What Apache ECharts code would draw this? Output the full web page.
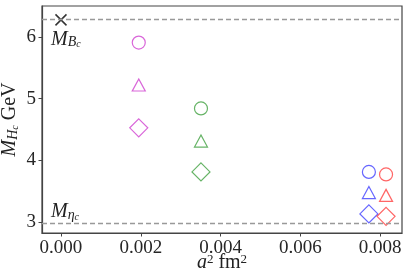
<!DOCTYPE html>
<html>
<head>
<meta charset="utf-8">
<script src="https://cdn.jsdelivr.net/npm/echarts@6/dist/echarts.min.js"></script>
<style>html,body{margin:0;padding:0;background:#fff}#c{width:415px;height:277px}</style>
</head>
<body>
<div id="c"></div>
<script>
// a^2 in fm^2 for each ensemble
const xPhys = [0.0];
const xMagenta = [0.00195];
const xGreen = [0.00351];
const xBlue = [0.00772];
const xRed = [0.00815];
// masses (GeV): circle, triangle, diamond
const circleM = [5.907], triangleM = [5.22], diamondM = [4.525];
const circleG = [4.84], triangleG = [4.31], diamondG = [3.81];
const circleB = [3.81], triangleB = [3.475], diamondB = [3.13];
const circleR = [3.77], triangleR = [3.43], diamondR = [3.09];
const physMass = [6.275];
const MBc = 6.275;
const Metac = 2.984;
const xTicks = [0, 0.002, 0.004, 0.006, 0.008];
const yTicks = [3, 4, 5, 6];

const FONT = 'Liberation Serif';
const chart = echarts.init(document.getElementById('c'), null, {renderer: 'canvas'});

function pts(xs, ys) { return ys.map((y, i) => [xs[i] !== undefined ? xs[i] : xs[0], y]); }

const markers = [
  {xs: xMagenta, c: circleM, t: triangleM, d: diamondM, color: '#cf40cf'},
  {xs: xGreen, c: circleG, t: triangleG, d: diamondG, color: '#40a040'},
  {xs: xBlue, c: circleB, t: triangleB, d: diamondB, color: '#4040ff'},
  {xs: xRed, c: circleR, t: triangleR, d: diamondR, color: '#ff4040'}
];

const series = [];
markers.forEach(m => {
  [['c', 'circle', [13, 13]], ['t', 'triangle', [13, 12]], ['d', 'diamond', [18, 18]]].forEach(([k, sym, size]) => {
    series.push({
      type: 'scatter', symbol: sym, symbolSize: size,
      data: pts(m.xs, m[k]),
      itemStyle: {color: 'transparent', borderColor: m.color, borderWidth: 1.2},
      emphasis: {disabled: true}, silent: true, z: 3
    });
  });
});

const C = '#222';
const subRich = {
  m: {fontFamily: FONT, fontStyle: 'italic', fontSize: 20, color: C, lineHeight: 22, verticalAlign: 'bottom'},
  s: {fontFamily: FONT, fontStyle: 'italic', fontSize: 14, color: C, lineHeight: 12, verticalAlign: 'bottom'},
  ss: {fontFamily: FONT, fontStyle: 'italic', fontSize: 10, color: C, lineHeight: 6, verticalAlign: 'bottom'},
  t: {fontFamily: FONT, fontSize: 20, color: C, lineHeight: 22, verticalAlign: 'bottom'}
};

series.push({
  type: 'scatter', symbol: 'path://M0,0L10,10M10,0L0,10', symbolSize: 11,
  data: pts(xPhys, physMass),
  itemStyle: {color: 'none', borderColor: '#000', borderWidth: 1.5},
  silent: true, z: 4,
  markLine: {
    silent: true, symbol: 'none',
    lineStyle: {color: '#999', type: [5, 3], width: 1.3},
    data: [
      {yAxis: MBc, label: {show: true, position: 'insideStartBottom', distance: [9, 8],
        formatter: '{m|M}{s|B}{ss|c}'}},
      {yAxis: Metac, label: {show: true, position: 'insideStartTop', distance: [9, 1],
        formatter: '{m|M}{s|η}{ss|c}'}}
    ],
    label: {rich: subRich}
  }
});

const axisTxt = {fontFamily: FONT, fontSize: 19, color: '#262626'};

chart.setOption({
  animation: false,
  backgroundColor: '#fff',
  grid: {left: 42, right: 13, top: 6, bottom: 44, show: true, borderColor: '#444', borderWidth: 1.2,
    backgroundColor: 'transparent', containLabel: false, outerBoundsMode: 'none'},
  xAxis: {
    type: 'value', min: -0.000476, max: 0.00855,
    splitLine: {show: false},
    axisLine: {show: true, onZero: false, lineStyle: {color: '#444', width: 1.2}},
    axisTick: {show: true, length: 3.5, lineStyle: {color: '#444'}, customValues: xTicks},
    axisLabel: Object.assign({margin: 6, customValues: xTicks, formatter: v => v.toFixed(3)}, axisTxt),
    name: '{i|a}{p|2}{t| fm}{p|2}', nameLocation: 'middle', nameGap: 20, nameMoveOverlap: false,
    nameTextStyle: {rich: {
      i: {fontFamily: FONT, fontStyle: 'italic', fontSize: 20, color: C, lineHeight: 20, verticalAlign: 'bottom'},
      t: {fontFamily: FONT, fontSize: 20, color: C, lineHeight: 20, verticalAlign: 'bottom'},
      p: {fontFamily: FONT, fontSize: 13, color: C, lineHeight: 8, verticalAlign: 'top'}
    }}
  },
  yAxis: {
    type: 'value', min: 2.82, max: 6.5,
    splitLine: {show: false},
    axisLine: {show: true, onZero: false, lineStyle: {color: '#444', width: 1.2}},
    axisTick: {show: true, length: 3.5, lineStyle: {color: '#444'}, customValues: yTicks},
    axisLabel: Object.assign({margin: 6, customValues: yTicks}, axisTxt),
    name: '{m|M}{s|H}{ss|c}{t| GeV}', nameLocation: 'middle', nameGap: 22, nameRotate: 90, nameMoveOverlap: false,
    nameTextStyle: {rich: subRich}
  },
  series: series
});
</script>
</body>
</html>
